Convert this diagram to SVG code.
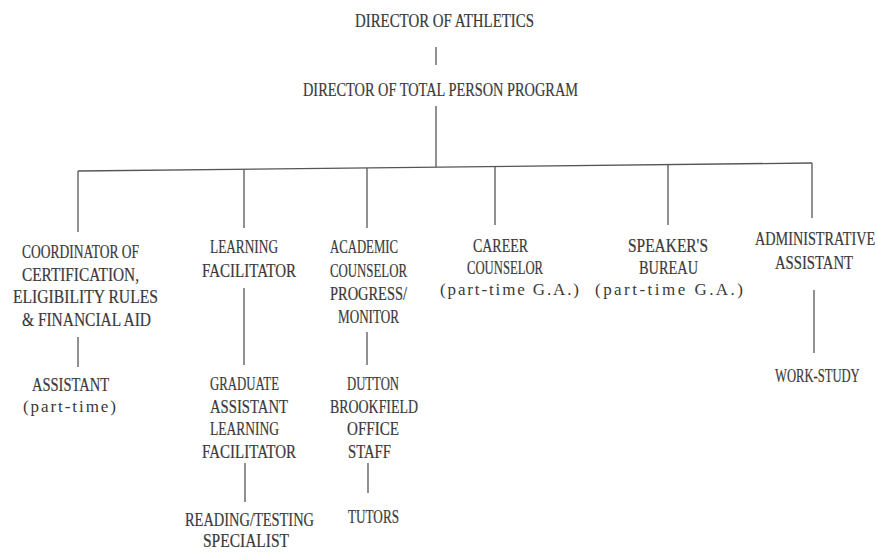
<svg xmlns="http://www.w3.org/2000/svg" width="878" height="552" viewBox="0 0 878 552">
<style>
text{font-family:"Liberation Serif","Times New Roman",serif;font-size:18px;fill:#3a3a3a;stroke:#3a3a3a;stroke-width:0.2;}
text.lc{font-size:17px;stroke-width:0;}
.c line{stroke:#555;stroke-width:1.3;fill:none;}
</style>
<rect width="878" height="552" fill="#fff"/>
<g class="c" id="connectors">
<line x1="436" y1="47" x2="436" y2="65"/>
<line x1="436" y1="106" x2="436" y2="167"/>
<line x1="78" y1="171" x2="812" y2="163"/>
<line x1="78" y1="171" x2="78" y2="232"/>
<line x1="244" y1="169" x2="244" y2="228"/>
<line x1="367" y1="168" x2="367" y2="228"/>
<line x1="495" y1="166.5" x2="495" y2="225"/>
<line x1="668" y1="164.6" x2="668" y2="225"/>
<line x1="812" y1="163" x2="812" y2="218"/>
<line x1="78" y1="337" x2="78" y2="367"/>
<line x1="244" y1="288" x2="244" y2="365"/>
<line x1="367" y1="332" x2="367" y2="365"/>
<line x1="814" y1="290" x2="814" y2="353"/>
<line x1="245" y1="463" x2="245" y2="502"/>
<line x1="368" y1="463" x2="368" y2="493"/>
</g>
<g id="director-athletics"><text x="355" y="27" textLength="179" lengthAdjust="spacingAndGlyphs">DIRECTOR OF ATHLETICS</text></g>
<g id="director-tpp"><text x="303" y="96" textLength="275" lengthAdjust="spacingAndGlyphs">DIRECTOR OF TOTAL PERSON PROGRAM</text></g>
<g id="coordinator">
<text x="22" y="258" textLength="117" lengthAdjust="spacingAndGlyphs">COORDINATOR OF</text>
<text x="22" y="280.5" textLength="117" lengthAdjust="spacingAndGlyphs">CERTIFICATION,</text>
<text x="13" y="303" textLength="145" lengthAdjust="spacingAndGlyphs">ELIGIBILITY RULES</text>
<text x="22" y="325.5" textLength="129" lengthAdjust="spacingAndGlyphs">&amp; FINANCIAL AID</text>
</g>
<g id="learning-facilitator">
<text x="210" y="253" textLength="68" lengthAdjust="spacingAndGlyphs">LEARNING</text>
<text x="202" y="277" textLength="94" lengthAdjust="spacingAndGlyphs">FACILITATOR</text>
</g>
<g id="academic-counselor">
<text x="330" y="253" textLength="68" lengthAdjust="spacingAndGlyphs">ACADEMIC</text>
<text x="330" y="277" textLength="77" lengthAdjust="spacingAndGlyphs">COUNSELOR</text>
<text x="330" y="300" textLength="77" lengthAdjust="spacingAndGlyphs">PROGRESS/</text>
<text x="338" y="323" textLength="61" lengthAdjust="spacingAndGlyphs">MONITOR</text>
</g>
<g id="career-counselor">
<text x="473" y="252" textLength="55" lengthAdjust="spacingAndGlyphs">CAREER</text>
<text x="467" y="274" textLength="76" lengthAdjust="spacingAndGlyphs">COUNSELOR</text>
<text class="lc" x="440" y="295" textLength="139" lengthAdjust="spacing">(part-time G.A.)</text>
</g>
<g id="speakers-bureau">
<text x="628" y="252" textLength="80" lengthAdjust="spacingAndGlyphs">SPEAKER'S</text>
<text x="639" y="274" textLength="59" lengthAdjust="spacingAndGlyphs">BUREAU</text>
<text class="lc" x="595" y="295" textLength="148" lengthAdjust="spacing">(part-time G.A.)</text>
</g>
<g id="administrative-assistant">
<text transform="translate(755,245) scale(0.78,1)" x="0" y="0" textLength="154" lengthAdjust="spacingAndGlyphs">ADMINISTRATIVE</text>
<text x="775" y="269" textLength="78" lengthAdjust="spacingAndGlyphs">ASSISTANT</text>
</g>
<g id="work-study"><text transform="translate(775,382) scale(0.7,1)" x="0" y="0" textLength="121" lengthAdjust="spacingAndGlyphs">WORK-STUDY</text></g>
<g id="assistant-part-time">
<text x="32" y="391" textLength="77" lengthAdjust="spacingAndGlyphs">ASSISTANT</text>
<text class="lc" x="23" y="412" textLength="93" lengthAdjust="spacing">(part-time)</text>
</g>
<g id="graduate-assistant">
<text x="210" y="390" textLength="69" lengthAdjust="spacingAndGlyphs">GRADUATE</text>
<text x="210" y="412.5" textLength="78" lengthAdjust="spacingAndGlyphs">ASSISTANT</text>
<text x="210" y="435" textLength="69" lengthAdjust="spacingAndGlyphs">LEARNING</text>
<text x="202" y="458" textLength="94" lengthAdjust="spacingAndGlyphs">FACILITATOR</text>
</g>
<g id="reading-testing">
<text x="185" y="526" textLength="129" lengthAdjust="spacingAndGlyphs">READING/TESTING</text>
<text x="203" y="547" textLength="86" lengthAdjust="spacingAndGlyphs">SPECIALIST</text>
</g>
<g id="dutton-brookfield">
<text x="347" y="390" textLength="52" lengthAdjust="spacingAndGlyphs">DUTTON</text>
<text x="330" y="412.5" textLength="88" lengthAdjust="spacingAndGlyphs">BROOKFIELD</text>
<text x="347" y="435" textLength="52" lengthAdjust="spacingAndGlyphs">OFFICE</text>
<text x="348" y="458" textLength="43" lengthAdjust="spacingAndGlyphs">STAFF</text>
</g>
<g id="tutors"><text x="348" y="523" textLength="51" lengthAdjust="spacingAndGlyphs">TUTORS</text></g>
</svg>
